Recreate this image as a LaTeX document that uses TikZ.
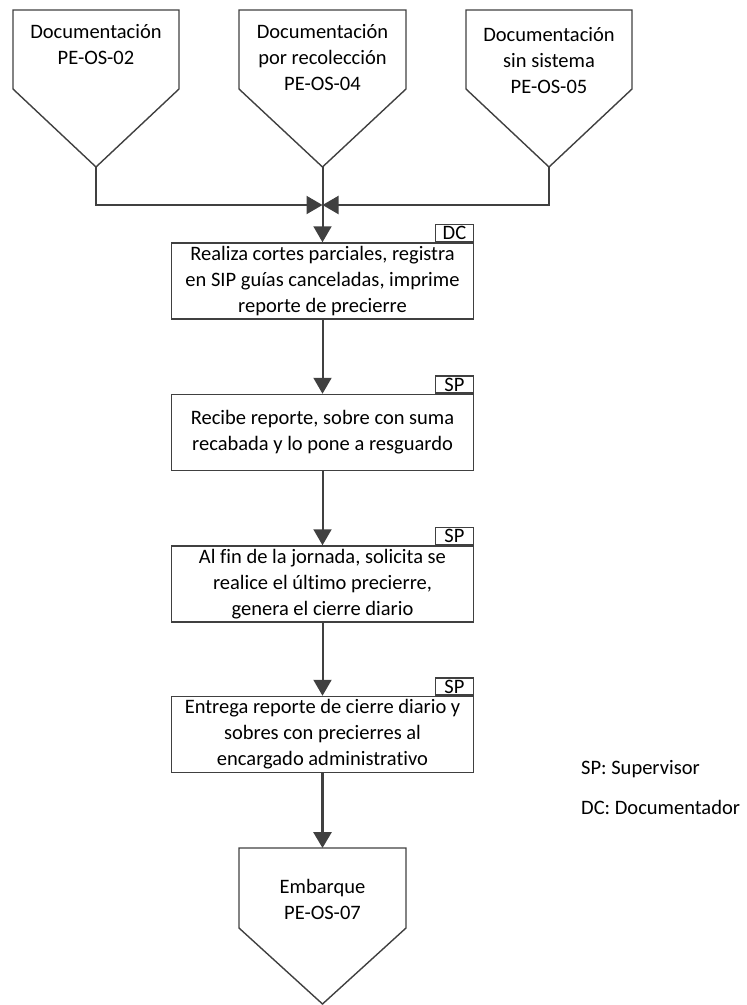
\documentclass[tikz,border=0pt]{standalone}
\usepackage{fontspec}
\setmainfont{Carlito}[Ligatures={NoCommon}]
\usetikzlibrary{arrows.meta}
\definecolor{lc}{HTML}{404040}
\begin{document}
\begin{tikzpicture}[x=1pt,y=-1pt,
  shapeline/.style={draw=lc, line width=1.4pt, line join=miter},
  conn/.style={draw=lc, line width=2pt, -{Triangle[length=16pt,width=18pt]}},
  connthick/.style={draw=lc, line width=3pt, -{Triangle[length=16pt,width=18pt]}},
  txt/.style={font=\fontsize{20.5}{26}\selectfont, align=center, inner sep=0pt, text=black},
  stepbox/.style={txt, draw=lc, line width=1.5pt, minimum width=302pt, minimum height=76pt},
  tagbox/.style={txt, draw=lc, line width=1.5pt, minimum width=38pt, minimum height=17pt, anchor=south east}]
\useasboundingbox (0,0) rectangle (747,1005);

% input pentagons
\draw[shapeline] (13,10) -- (179,10) -- (179,89) -- (96,167) -- (13,89) -- cycle;
\node[txt] (P1) at (96,45) {Documentación\\PE-OS-02};
\coordinate (P1tip) at (96,167);

\draw[shapeline] (239,10) -- (406,10) -- (406,89) -- (322.5,167) -- (239,89) -- cycle;
\node[txt] (P2) at (322.5,58) {Documentación\\por recolección\\PE-OS-04};
\coordinate (P2tip) at (322.5,167);

\draw[shapeline] (466,10) -- (632,10) -- (632,89) -- (549,167) -- (466,89) -- cycle;
\node[txt] (P3) at (549,61) {Documentación\\sin sistema\\PE-OS-05};
\coordinate (P3tip) at (549,167);

\coordinate (M) at (322.5,205);

% steps
\node[stepbox] (B1) at (322.5,281) {Realiza cortes parciales, registra\\en SIP guías canceladas, imprime\\reporte de precierre};
\node[tagbox] (T1) at (B1.north east) {DC};

\node[stepbox] (B2) at (322.5,432.5) {Recibe reporte, sobre con suma\\recabada y lo pone a resguardo};
\node[tagbox] (T2) at (B2.north east) {SP};

\node[stepbox] (B3) at (322.5,584) {Al fin de la jornada, solicita se\\realice el último precierre,\\genera el cierre diario};
\node[tagbox] (T3) at (B3.north east) {SP};

\node[stepbox] (B4) at (322.5,734.5) {Entrega reporte de cierre diario y\\sobres con precierres al\\encargado administrativo};
\node[tagbox] (T4) at (B4.north east) {SP};

% output pentagon
\draw[shapeline] (239,848) -- (406,848) -- (406,928) -- (322.5,1004) -- (239,928) -- cycle;
\node[txt] (P4) at (322.5,899) {Embarque\\PE-OS-07};
\coordinate (P4top) at (322.5,848);

% connectors
\draw[conn] (P1tip) |- (M);
\draw[conn] (P3tip) |- (M);
\draw[conn] (P2tip) -- (B1.north);
\draw[conn] (B1.south) -- (B2.north);
\draw[conn] (B2.south) -- (B3.north);
\draw[conn] (B3.south) -- (B4.north);
\draw[connthick] (B4.south) -- (P4top);

% legend
\node[txt, anchor=west] (L1) at (581,769) {SP: Supervisor};
\node[txt, anchor=west] (L2) at (581,807) {DC: Documentador};
\end{tikzpicture}
\end{document}
